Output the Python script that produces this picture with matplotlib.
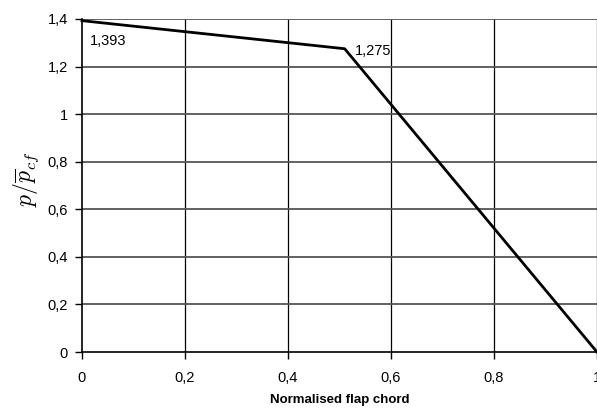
import matplotlib
matplotlib.use("Agg")
import matplotlib.pyplot as plt

plt.rcParams["font.family"] = ["Liberation Sans", "DejaVu Sans"]
plt.rcParams["mathtext.fontset"] = "cm"

chord = [0.0, 0.51, 1.0]
pressure = [1.393, 1.275, 0.0]
labels = ["1,393", "1,275"]
xticks = [0, 0.2, 0.4, 0.6, 0.8, 1.0]
yticks = [0, 0.2, 0.4, 0.6, 0.8, 1.0, 1.2, 1.4]


def comma(v):
    s = f"{v:g}"
    return s.replace(".", ",")


fig = plt.figure(figsize=(5.97, 4.13), dpi=100)
ax = fig.add_axes([82 / 597, 61 / 413, 515 / 597, 333 / 413])

for x in xticks[1:]:
    ax.axvline(x, color="black", lw=0.9, zorder=1)
for y in yticks[1:]:
    ax.axhline(y, color="#555555", lw=1.3, zorder=1)

ax.plot(chord, pressure, color="black", lw=2, zorder=3, clip_on=False)
ax.text(chord[0] + 0.015, pressure[0] - 0.085, labels[0], fontsize=10.5, va="center")
ax.text(chord[1] + 0.02, pressure[1] - 0.01, labels[1], fontsize=10.5, va="center")

ax.set_xlim(0, 1)
ax.set_ylim(0, 1.4)
ax.set_xticks(xticks)
ax.set_xticklabels([comma(v) for v in xticks])
ax.set_yticks(yticks)
ax.set_yticklabels([comma(v) for v in yticks])
ax.tick_params(direction="out", length=5, width=1, labelsize=10.5, pad=9)
ax.tick_params(axis="y", pad=5)
for s in ["top", "right"]:
    ax.spines[s].set_visible(False)
for s in ["left", "bottom"]:
    ax.spines[s].set_linewidth(1.2)

ax.set_xlabel("Normalised flap chord", fontsize=9.5, fontweight="bold", labelpad=6)
ax.set_ylabel(r"$p/\overline{p}_{cf}$", fontsize=17)
ax.yaxis.set_label_coords(-0.08, 0.52)

fig.savefig("out.png", dpi=100)
